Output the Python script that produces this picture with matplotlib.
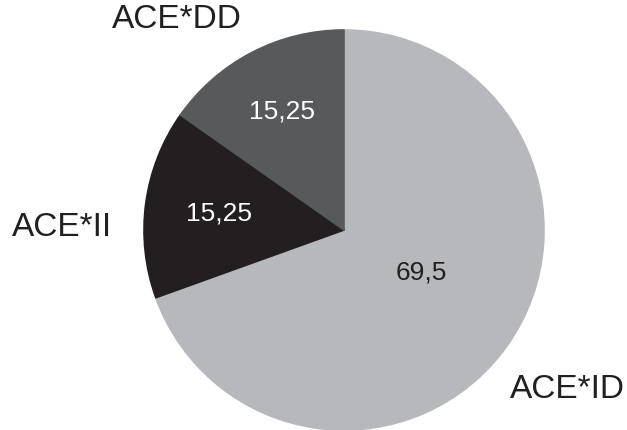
import numpy as np
import matplotlib.pyplot as plt

plt.rcParams['font.family'] = ['Liberation Sans', 'DejaVu Sans']

# data
genotypes = ['ACE*ID', 'ACE*II', 'ACE*DD']
values = [69.5, 15.25, 15.25]
value_labels = ['69,5', '15,25', '15,25']
colors = ['#b7b8bc', '#231f20', '#58595b']
txt_colors = ['#231f20', 'white', 'white']

fig = plt.figure(figsize=(6.27, 4.3), dpi=100)
ax = fig.add_axes([0, 0, 1, 1])

cx, cy, r = 344, 200, 200
wedges, _ = ax.pie(values, colors=colors, startangle=90, counterclock=False,
                   center=(cx, cy), radius=r, explode=[0.012, 0, 0],
                   wedgeprops=dict(linewidth=1.2, joinstyle='round'), frame=True)
for w, c in zip(wedges, colors):
    w.set_edgecolor(c)
ax.set_xlim(0, 627)
ax.set_ylim(0, 430)
ax.set_aspect('equal')
ax.axis('off')

# value labels inside the slices
dists = [0.44, 0.63, 0.67]
for w, lab, d, tc in zip(wedges, value_labels, dists, txt_colors):
    ang = np.deg2rad((w.theta1 + w.theta2) / 2 + (6 if d < 0.5 else 0))
    ax.text(cx + d * r * np.cos(ang), cy + d * r * np.sin(ang), lab,
            ha='center', va='center', fontsize=19, color=tc)

# category labels outside
ax.text(177, 410, genotypes[2], ha='center', va='center', fontsize=24, color='#231f20')
ax.text(62, 202, genotypes[1], ha='center', va='center', fontsize=24, color='#231f20')
ax.text(567, 40, genotypes[0], ha='center', va='center', fontsize=24, color='#231f20')

fig.savefig('out.png', dpi=100)
